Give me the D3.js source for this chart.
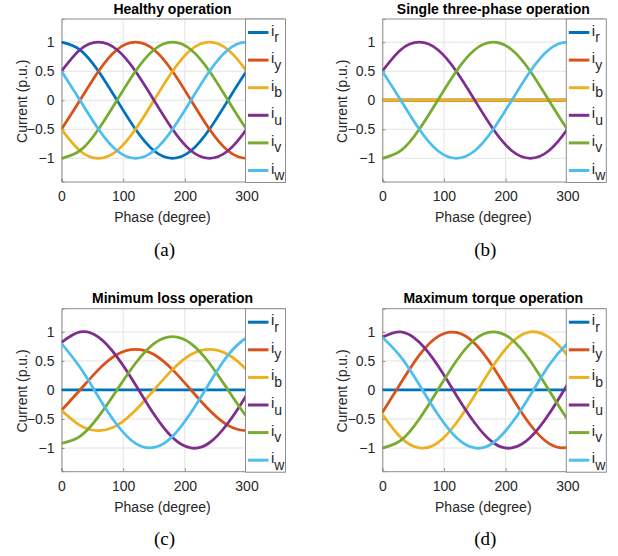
<!DOCTYPE html>
<html>
<head>
<meta charset="utf-8">
<script src="https://cdn.jsdelivr.net/npm/d3@7"></script>
<style>
  body { margin: 0; background: #fff; }
  svg { display: block; }
  text { font-family: "Liberation Sans", Arial, sans-serif; fill: #262626; }
</style>
</head>
<body>
<svg id="fig" width="618" height="556"></svg>
<script>
// phase samples (degree)
const phase = [0, 30, 60, 90, 120, 150, 180, 210, 240, 270, 300, 330, 360];

const seriesNames = ["r", "y", "b", "u", "v", "w"];
const seriesColors = ["#0072BD", "#D95319", "#EDB120", "#7E2F8E", "#77AC30", "#4DBEEE"];

const zeroCurrent = [0, 0, 0, 0, 0, 0, 0, 0, 0, 0, 0, 0, 0];

// (a) healthy operation
const healthyR = [1, 0.87, 0.5, 0, -0.5, -0.87, -1, -0.87, -0.5, 0, 0.5, 0.87, 1];
const healthyY = [-0.5, 0, 0.5, 0.87, 1, 0.87, 0.5, 0, -0.5, -0.87, -1, -0.87, -0.5];
const healthyB = [-0.5, -0.87, -1, -0.87, -0.5, 0, 0.5, 0.87, 1, 0.87, 0.5, 0, -0.5];
const healthyU = [0.5, 0.87, 1, 0.87, 0.5, 0, -0.5, -0.87, -1, -0.87, -0.5, 0, 0.5];
const healthyV = [-1, -0.87, -0.5, 0, 0.5, 0.87, 1, 0.87, 0.5, 0, -0.5, -0.87, -1];
const healthyW = [0.5, 0, -0.5, -0.87, -1, -0.87, -0.5, 0, 0.5, 0.87, 1, 0.87, 0.5];

// (c) minimum loss operation
const minLossY = [-0.35, 0, 0.35, 0.61, 0.7, 0.61, 0.35, 0, -0.35, -0.61, -0.7, -0.61, -0.35];
const minLossB = [-0.35, -0.61, -0.7, -0.61, -0.35, 0, 0.35, 0.61, 0.7, 0.61, 0.35, 0, -0.35];
const minLossU = [0.82, 1.0, 0.91, 0.57, 0.09, -0.42, -0.82, -1.0, -0.91, -0.57, -0.09, 0.42, 0.82];
const minLossV = [-0.92, -0.8, -0.46, 0, 0.46, 0.8, 0.92, 0.8, 0.46, 0, -0.46, -0.8, -0.92];
const minLossW = [0.8, 0.39, -0.12, -0.6, -0.92, -0.99, -0.8, -0.39, 0.12, 0.6, 0.9, 0.99, 0.8];

// (d) maximum torque operation
const maxTorqueY = [-0.39, 0.12, 0.6, 0.92, 0.99, 0.8, 0.39, -0.12, -0.6, -0.92, -0.99, -0.8, -0.39];
const maxTorqueB = [-0.42, -0.82, -1.0, -0.91, -0.57, -0.09, 0.42, 0.82, 1.0, 0.91, 0.6, 0.12, -0.42];
const maxTorqueU = [0.91, 1.0, 0.82, 0.42, -0.09, -0.57, -0.91, -1.0, -0.82, -0.42, 0.09, 0.57, 0.91];
const maxTorqueV = [-1, -0.87, -0.5, 0, 0.5, 0.87, 1, 0.87, 0.5, 0, -0.5, -0.87, -1];
const maxTorqueW = [0.91, 0.57, 0.09, -0.42, -0.82, -1.0, -0.91, -0.57, -0.09, 0.42, 0.8, 1.0, 0.91];

const xTicks = [0, 100, 200, 300];
const yTicks = [-1, -0.5, 0, 0.5, 1];

const panels = [
  { title: "Healthy operation", tag: "(a)", left: 61.5, top: 19,
    series: [healthyR, healthyY, healthyB, healthyU, healthyV, healthyW] },
  { title: "Single three-phase operation", tag: "(b)", left: 382.3, top: 19,
    series: [zeroCurrent, zeroCurrent, zeroCurrent, healthyU, healthyV, healthyW] },
  { title: "Minimum loss operation", tag: "(c)", left: 61.5, top: 308.7,
    series: [zeroCurrent, minLossY, minLossB, minLossU, minLossV, minLossW] },
  { title: "Maximum torque operation", tag: "(d)", left: 382.3, top: 308.7,
    series: [zeroCurrent, maxTorqueY, maxTorqueB, maxTorqueU, maxTorqueV, maxTorqueW] }
];

const plotW = 222, plotH = 162.5;
const svg = d3.select("#fig");

panels.forEach((p, pi) => {
  const g = svg.append("g").attr("transform", `translate(${p.left},${p.top})`);

  const x = d3.scaleLinear().domain([0, 360]).range([0, plotW]);
  const y = d3.scaleLinear().domain([-1.4, 1.4]).range([plotH, 0]);

  // grid
  g.append("g").selectAll("line.gx").data(xTicks).enter().append("line")
    .attr("x1", d => x(d)).attr("x2", d => x(d))
    .attr("y1", 0).attr("y2", plotH)
    .style("stroke", "#e3e3e3").style("stroke-width", 1);
  g.append("g").selectAll("line.gy").data(yTicks).enter().append("line")
    .attr("x1", 0).attr("x2", plotW)
    .attr("y1", d => y(d)).attr("y2", d => y(d))
    .style("stroke", "#e3e3e3").style("stroke-width", 1);

  // axes
  const xAxis = g.append("g").attr("transform", `translate(0,${plotH})`)
    .call(d3.axisBottom(x).tickValues(xTicks).tickSize(-3).tickPadding(10));
  const yAxis = g.append("g")
    .call(d3.axisLeft(y).tickValues(yTicks).tickSize(-3).tickPadding(7)
      .tickFormat(d => d3.format("")(d)));
  [xAxis, yAxis].forEach(a => {
    a.select(".domain").style("stroke", "#8c8c8c");
    a.selectAll(".tick line").style("stroke", "#8c8c8c");
    a.selectAll(".tick text").style("font-size", "14px")
      .style("font-family", "'Liberation Sans', Arial, sans-serif").style("fill", "#262626");
  });
  g.append("line").attr("x1", 0).attr("x2", plotW).attr("y1", 0).attr("y2", 0)
    .style("stroke", "#8c8c8c");

  // curves
  const clipId = "clip" + pi;
  g.append("clipPath").attr("id", clipId).append("rect")
    .attr("width", plotW + 3).attr("height", plotH);
  const line = d3.line().x((d, i) => x(phase[i])).y(d => y(d)).curve(d3.curveNatural);
  g.append("g").attr("clip-path", `url(#${clipId})`)
    .selectAll("path.line").data(p.series).enter().append("path")
    .attr("class", "line")
    .attr("d", line)
    .style("fill", "none")
    .style("stroke", (d, i) => seriesColors[i])
    .style("stroke-width", 2.8);

  // legend
  const lx = x(300) - 1, lw = 40;
  const leg = g.append("g").attr("transform", `translate(${lx},0)`);
  leg.append("rect").attr("x", 0).attr("y", 0).attr("width", lw).attr("height", plotH + 1)
    .style("fill", "#fff").style("stroke", "#8c8c8c").style("stroke-width", 1);
  const items = leg.selectAll("g.item").data(seriesNames).enter().append("g")
    .attr("transform", (d, i) => `translate(0,${13.5 + i * 27.6})`);
  items.append("line").attr("x1", 2.5).attr("x2", 23).attr("y1", 0).attr("y2", 0)
    .style("stroke", (d, i) => seriesColors[i]).style("stroke-width", 3);
  const lt = items.append("text").attr("x", 25.5).attr("y", 3)
    .style("font-size", "15px");
  lt.append("tspan").text("i");
  lt.append("tspan").attr("dy", 6.5).style("font-size", "14px").text(d => d);

  // titles and labels
  g.append("text").attr("x", plotW / 2).attr("y", -5.5)
    .attr("text-anchor", "middle").style("font-size", "14px").style("font-weight", "bold")
    .style("fill", "#000").text(p.title);
  g.append("text").attr("x", plotW / 2 - 10).attr("y", plotH + 40.5)
    .attr("text-anchor", "middle").style("font-size", "14px").text("Phase (degree)");
  g.append("text").attr("transform", `translate(-35,${plotH / 2 + 1}) rotate(-90)`)
    .attr("text-anchor", "middle").style("font-size", "14px").text("Current (p.u.)");
  g.append("text").attr("x", plotW / 2 - 8).attr("y", plotH + 74)
    .attr("text-anchor", "middle")
    .style("font-family", "'Liberation Serif', 'Times New Roman', serif")
    .style("font-size", "19px").style("fill", "#000").text(p.tag);
});
</script>
</body>
</html>
